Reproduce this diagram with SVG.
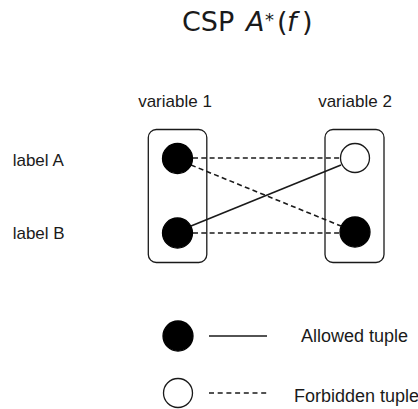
<svg xmlns="http://www.w3.org/2000/svg" width="418" height="409" viewBox="0 0 418 409">
<style>
.lbl{font-family:"Liberation Sans",Arial,sans-serif;font-size:17px;fill:#1a1a1a}
.leg{font-size:18px}
.ttl{font-family:"DejaVu Sans",sans-serif;font-size:27px;fill:#1a1a1a}
.box{fill:none;stroke:#1a1a1a;stroke-width:1.3}
.full{fill:#000;stroke:#000;stroke-width:1.3}
.open{fill:#fff;stroke:#1a1a1a;stroke-width:1.3}
.solid{stroke:#1a1a1a;stroke-width:1.6;fill:none}
.dash{stroke:#1a1a1a;stroke-width:1.6;fill:none;stroke-dasharray:5,3.3}
</style>
<rect width="418" height="409" fill="#fff"/>
<g id="title">
<text class="ttl" y="31"><tspan x="182">CSP</tspan><tspan x="246" font-style="italic">A</tspan><tspan x="265" y="26" font-size="18">*</tspan><tspan x="277" y="31">(</tspan><tspan x="287" font-style="italic">f</tspan><tspan x="302">)</tspan></text>
</g>
<g id="headers">
<text class="lbl" x="175" y="106.5" text-anchor="middle">variable 1</text>
<text class="lbl" x="355" y="106.5" text-anchor="middle">variable 2</text>
<text class="lbl" x="12.7" y="166">label A</text>
<text class="lbl" x="12.7" y="239.3">label B</text>
</g>
<g id="var1">
<rect class="box" x="148.3" y="129.5" width="58.5" height="133" rx="8"/>
</g>
<g id="var2">
<rect class="box" x="325" y="129.5" width="59" height="133" rx="8"/>
</g>
<g id="connectors">
<line class="dash" x1="193" y1="158" x2="340" y2="158"/>
<line class="dash" x1="193" y1="233" x2="340" y2="233"/>
<line class="dash" x1="191" y1="165" x2="341" y2="226"/>
<line class="solid" x1="191" y1="226" x2="341" y2="165"/>
</g>
<g id="v1a"><circle class="full" cx="177.5" cy="158.5" r="15"/></g>
<g id="v1b"><circle class="full" cx="177.5" cy="233" r="15"/></g>
<g id="v2a"><circle class="open" cx="355" cy="158" r="14.5"/></g>
<g id="v2b"><circle class="full" cx="355" cy="232" r="15"/></g>
<g id="legend-allowed">
<circle class="full" cx="178" cy="336" r="15"/>
<line class="solid" x1="209" y1="336" x2="267" y2="336"/>
<text class="lbl leg" x="301" y="342">Allowed tuple</text>
</g>
<g id="legend-forbidden">
<circle class="open" cx="178" cy="393" r="14.5"/>
<line class="dash" x1="209" y1="393" x2="267" y2="393" style="stroke-dasharray:5,3.7"/>
<text class="lbl leg" x="294" y="401.5">Forbidden tuple</text>
</g>
</svg>
